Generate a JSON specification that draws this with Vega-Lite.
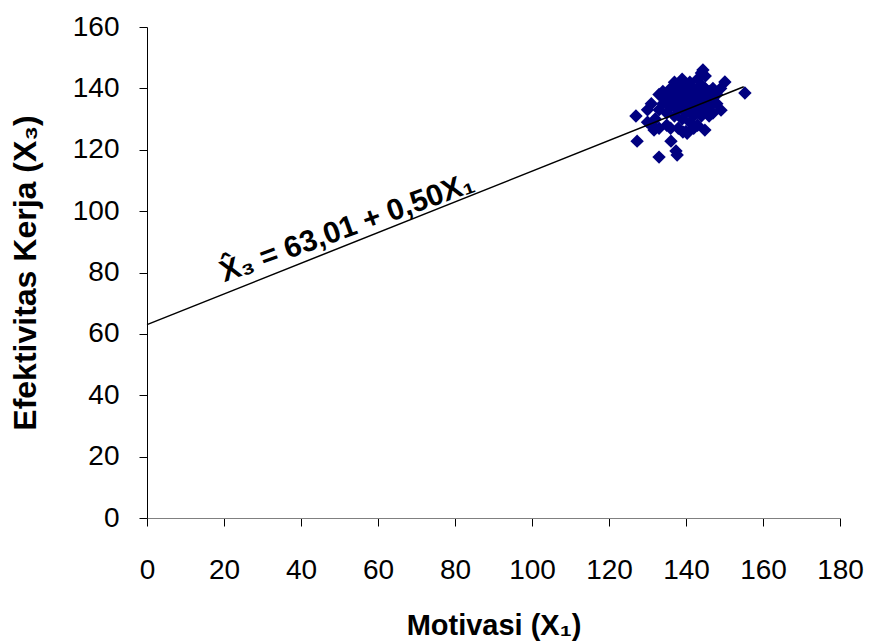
{
  "$schema": "https://vega.github.io/schema/vega-lite/v6.json",
  "width": 693,
  "height": 491,
  "autosize": "none",
  "padding": {"left": 147, "top": 27, "right": 34, "bottom": 123},
  "background": "white",
  "config": {"view": {"stroke": null}},
  "datasets": {
    "pts": [
      {"x": 127.0, "y": 131.0}, {"x": 127.3, "y": 122.8}, {"x": 133.0, "y": 117.6}, {"x": 136.1, "y": 122.8},
      {"x": 137.4, "y": 119.6}, {"x": 137.7, "y": 118.3}, {"x": 131.7, "y": 126.4}, {"x": 139.2, "y": 125.8},
      {"x": 144.4, "y": 146.0}, {"x": 150.1, "y": 142.1}, {"x": 155.3, "y": 138.5}, {"x": 149.1, "y": 132.9},
      {"x": 144.9, "y": 126.4}, {"x": 140.3, "y": 125.4},
      {"x": 132, "y": 130}, {"x": 133, "y": 133}, {"x": 134, "y": 135}, {"x": 134, "y": 137}, {"x": 135, "y": 132},
      {"x": 135, "y": 138}, {"x": 136, "y": 134}, {"x": 136, "y": 136}, {"x": 136, "y": 140}, {"x": 137, "y": 131},
      {"x": 137, "y": 135}, {"x": 137, "y": 138}, {"x": 138, "y": 133}, {"x": 138, "y": 136}, {"x": 138, "y": 139},
      {"x": 138, "y": 141}, {"x": 139, "y": 130}, {"x": 139, "y": 134}, {"x": 139, "y": 137}, {"x": 139, "y": 140},
      {"x": 140, "y": 132}, {"x": 140, "y": 135}, {"x": 140, "y": 138}, {"x": 140, "y": 141}, {"x": 141, "y": 129},
      {"x": 141, "y": 133}, {"x": 141, "y": 136}, {"x": 141, "y": 139}, {"x": 141, "y": 142}, {"x": 142, "y": 131},
      {"x": 142, "y": 134}, {"x": 142, "y": 137}, {"x": 142, "y": 140}, {"x": 143, "y": 128}, {"x": 143, "y": 133},
      {"x": 143, "y": 136}, {"x": 143, "y": 139}, {"x": 143, "y": 143}, {"x": 144, "y": 131}, {"x": 144, "y": 135},
      {"x": 144, "y": 138}, {"x": 144, "y": 141}, {"x": 145, "y": 133}, {"x": 145, "y": 136}, {"x": 145, "y": 140},
      {"x": 145, "y": 144}, {"x": 146, "y": 134}, {"x": 146, "y": 137}, {"x": 146, "y": 139}, {"x": 147, "y": 136},
      {"x": 147, "y": 140}, {"x": 148, "y": 138}, {"x": 135, "y": 128}, {"x": 136, "y": 127}, {"x": 138, "y": 127},
      {"x": 140, "y": 126}, {"x": 142, "y": 127}, {"x": 131, "y": 128}, {"x": 133, "y": 127}, {"x": 130, "y": 129},
      {"x": 146, "y": 131}, {"x": 147, "y": 132}, {"x": 148, "y": 135}, {"x": 149, "y": 140}, {"x": 137, "y": 142},
      {"x": 139, "y": 143}, {"x": 144, "y": 145}, {"x": 130, "y": 133}, {"x": 131, "y": 135}, {"x": 133, "y": 138},
      {"x": 134, "y": 139}
    ],
    "fit": [{"x": 0, "y": 63.01}, {"x": 155, "y": 140.51}],
    "eq": [{"x": 52, "y": 94.5, "label": "X̂₃ = 63,01 + 0,50X₁"}]
  },
  "layer": [
    {
      "data": {"name": "pts"},
      "mark": {"type": "point", "shape": "diamond", "filled": true, "color": "#000080", "opacity": 1, "size": 180},
      "encoding": {
        "x": {
          "field": "x", "type": "quantitative",
          "scale": {"domain": [0, 180], "nice": false},
          "axis": {
            "title": "Motivasi (X₁)", "values": [0, 20, 40, 60, 80, 100, 120, 140, 160, 180],
            "grid": false, "domainColor": "#808080", "tickColor": "#000000", "tickSize": 8,
            "labelFont": "Liberation Sans", "labelFontSize": 28, "labelColor": "#000000",
            "labelPadding": 30, "labelFlush": false,
            "titleFont": "Liberation Sans", "titleFontSize": 29, "titleFontWeight": "bold",
            "titleColor": "#000000", "titlePadding": 27
          }
        },
        "y": {
          "field": "y", "type": "quantitative",
          "scale": {"domain": [0, 160], "nice": false},
          "axis": {
            "title": "Efektivitas Kerja (X₃)", "values": [0, 20, 40, 60, 80, 100, 120, 140, 160],
            "grid": false, "domainColor": "#000000", "tickColor": "#000000", "tickSize": 8,
            "labelFont": "Liberation Sans", "labelFontSize": 28, "labelColor": "#000000",
            "labelPadding": 20, "labelFlush": false,
            "titleFont": "Liberation Sans", "titleFontSize": 32, "titleFontWeight": "bold",
            "titleColor": "#000000", "titlePadding": 30
          }
        }
      }
    },
    {
      "data": {"name": "fit"},
      "mark": {"type": "line", "color": "#000000", "strokeWidth": 1.5},
      "encoding": {
        "x": {"field": "x", "type": "quantitative"},
        "y": {"field": "y", "type": "quantitative"}
      }
    },
    {
      "data": {"name": "eq"},
      "mark": {"type": "text", "font": "Liberation Sans", "fontSize": 30, "fontWeight": "bold", "angle": -20, "color": "#000000", "align": "center", "baseline": "middle"},
      "encoding": {
        "x": {"field": "x", "type": "quantitative"},
        "y": {"field": "y", "type": "quantitative"},
        "text": {"field": "label"}
      }
    }
  ]
}
